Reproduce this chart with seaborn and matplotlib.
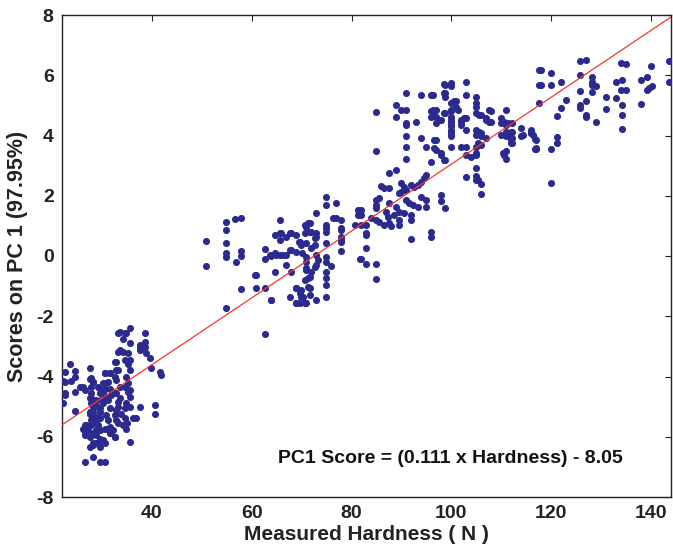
import numpy as np
import pandas as pd
import matplotlib
matplotlib.use("Agg")
import matplotlib.pyplot as plt
import seaborn as sns

# ---------------- data ----------------
# (measured hardness N, PC1 score) – soft group
group_soft = [
    (23.7, -3.60), (22.6, -3.84), (24.6, -3.82), (22.3, -4.14), (23.8, -4.15), (24.6, -4.03),
    (25.6, -4.36), (26.3, -4.36), (26.6, -4.45), (24.6, -4.53), (22.6, -4.62), (22.3, -4.89),
    (24.6, -5.15), (27.7, -3.73), (27.7, -4.09), (28.3, -4.17), (27.9, -4.36), (27.9, -4.56),
    (27.6, -4.73), (27.9, -4.89), (28.3, -5.00), (27.6, -5.17), (28.3, -5.28), (27.9, -5.45),
    (27.9, -5.61), (26.6, -5.61), (26.6, -5.84), (26.6, -5.95), (27.6, -6.00), (27.6, -6.33),
    (28.3, -6.28), (28.9, -6.22), (29.6, -6.22), (30.6, -6.22), (28.3, -6.67), (26.6, -6.83),
    (29.6, -6.83), (30.6, -6.83), (28.9, -5.78), (28.9, -5.95), (29.3, -5.61), (29.6, -5.39),
    (29.6, -5.17), (29.3, -5.00), (29.9, -4.78), (30.3, -4.56), (30.6, -4.40), (30.3, -4.23),
    (30.6, -3.87), (31.6, -3.87), (31.3, -4.17), (31.6, -4.40), (31.9, -4.62), (31.3, -4.78),
    (31.6, -5.06), (30.9, -5.28), (31.3, -5.73), (31.6, -5.89), (32.3, -5.78), (32.6, -6.00),
    (32.9, -5.45), (32.9, -5.12), (33.3, -4.84), (32.9, -4.56), (33.6, -4.34), (32.9, -4.12),
    (32.9, -3.79), (32.9, -3.51), (33.6, -3.12), (33.6, -2.51), (34.9, -2.57), (35.6, -2.40),
    (35.6, -2.90), (35.3, -3.23), (34.6, -3.46), (35.6, -3.46), (35.6, -3.79), (34.9, -4.01),
    (35.3, -4.23), (35.6, -4.45), (35.6, -4.67), (34.9, -4.89), (35.6, -5.00), (33.9, -5.23),
    (34.6, -5.39), (34.3, -5.61), (34.9, -5.73), (36.3, -5.39), (35.6, -6.17), (36.9, -5.39),
    (37.6, -5.00), (37.6, -3.01), (37.6, -3.12), (38.6, -2.57), (38.6, -2.85), (38.6, -3.01),
    (38.9, -3.23), (39.6, -3.40), (39.9, -3.73), (40.6, -4.95), (40.6, -5.23), (41.6, -3.84),
    (41.9, -3.95),
    (33.3, -2.57), (34.7, -2.57), (37.7, -2.96), (33.3, -3.18), (32.7, -3.51), (33.3, -3.79),
    (32.7, -4.01), (32.3, -4.51), (33.7, -4.73), (33.3, -5.00), (32.7, -5.28), (33.3, -5.56),
    (32.7, -6.00), (34.7, -4.35), (35.3, -4.50), (34.7, -5.05), (35.0, -5.55), (35.3, -3.60),
    (34.3, -3.20), (34.3, -2.75),
    (22.6, -4.17), (22.6, -4.56), (27.9, -4.06), (28.3, -4.17), (29.3, -4.34), (29.6, -4.56),
    (28.9, -4.78), (27.9, -4.73), (28.6, -4.89), (30.6, -3.90), (31.6, -3.90), (30.9, -4.23),
    (30.3, -4.45), (30.9, -4.73), (30.3, -4.89), (29.6, -5.06), (28.3, -5.17), (27.6, -5.23),
    (28.3, -5.39), (29.3, -5.34), (28.9, -5.56), (26.9, -5.61), (26.3, -5.73), (27.3, -5.78),
    (28.3, -5.89), (29.6, -5.78), (30.6, -5.73), (31.6, -5.67), (31.3, -5.45), (31.6, -5.89),
    (29.6, -6.06), (28.3, -6.22), (30.3, -6.11), (29.6, -6.33),
]

# medium group
group_medium = [
    (50.8, 0.51), (50.8, -0.33), (54.8, 1.12), (54.8, 0.86), (56.6, 1.22), (57.8, 1.27),
    (54.8, 0.42), (54.8, 0.09), (54.8, -0.02), (56.8, -0.19), (57.8, 0.18), (57.8, 0.00),
    (57.8, -1.11), (54.8, -1.72), (60.8, -0.63), (60.8, -1.05), (62.7, -1.05), (62.7, -2.60),
    (63.8, -1.46), (62.7, 0.22), (62.7, -0.11), (63.8, 0.00), (64.6, 0.70), (64.6, -0.52),
    (65.7, 1.20), (65.7, 0.75), (65.7, 0.53), (64.8, 0.03), (65.7, 0.03), (66.9, 0.64),
    (67.6, 0.75), (66.9, 0.03), (66.9, -0.30), (67.6, 0.20), (68.9, 0.70), (68.9, 0.14),
    (67.9, -0.52), (67.6, -1.35), (68.8, -1.07), (68.8, -1.57), (69.5, 0.48), (69.9, 0.37),
    (70.1, 0.09), (70.6, 1.03), (70.6, 0.75), (70.9, 0.42), (70.9, -0.02), (70.9, -0.46),
    (71.3, -0.74), (70.6, -0.80), (69.9, -1.13), (69.9, -1.35), (69.6, -1.57), (70.9, -1.57),
    (71.6, -1.07), (71.6, -1.29), (71.6, 1.09), (71.6, 0.81), (71.9, 0.26), (72.6, 0.37),
    (72.8, 0.64), (72.8, 0.03), (72.8, -0.30), (72.8, -1.46), (72.8, 1.44), (74.8, 1.97),
    (74.8, 1.70), (74.8, 1.03), (74.8, 0.92), (74.8, 0.81), (74.8, 0.42), (74.8, -0.02),
    (74.8, -0.19), (74.8, -0.52), (74.8, -0.74), (74.8, -0.96), (74.8, -1.35), (75.9, -0.33),
    (76.8, 1.77), (76.3, 1.25), (76.9, 1.25), (77.9, 1.20), (77.9, 0.86), (77.9, 0.64),
    (77.9, 0.53), (77.9, 0.17), (81.3, 1.53), (81.3, 1.36), (81.6, -0.11),
    (63.6, 0.03), (64.6, 0.09), (66.3, 0.03), (67.9, 0.20), (69.6, 0.48), (70.9, 0.97),
    (71.3, 1.09), (71.9, 0.81), (72.6, 0.59), (72.9, 0.75), (73.3, -0.13), (72.6, -0.35),
    (70.9, -0.19), (70.9, -0.41), (71.9, -0.52), (71.6, -0.69), (71.3, -1.02), (68.9, -1.07),
    (69.6, -1.24), (70.3, -1.35), (70.6, -1.57), (68.9, -1.57), (63.9, -1.46), (60.6, -0.63),
    (65.9, 0.78), (67.9, 0.78),
]

# hard group
group_hard = [
    (77.9, 0.92), (77.9, 0.48), (80.6, 1.03), (81.9, 1.53), (81.9, 1.36), (81.9, 1.03),
    (82.9, 1.03), (82.9, 0.75), (82.9, 0.70), (82.9, 0.26), (81.9, -0.11), (82.9, -0.27),
    (84.9, -0.27), (84.9, -0.78), (83.9, 1.25), (84.9, 1.86), (84.9, 1.69), (84.9, 1.58),
    (85.6, 1.92), (84.9, 1.20), (85.6, 1.14), (85.9, 2.33), (86.6, 2.25), (87.6, 2.25),
    (87.6, 1.75), (86.9, 1.47), (87.3, 1.31), (87.6, 1.09), (86.6, 1.03), (87.9, 0.98),
    (87.6, 2.75), (88.9, 2.86), (88.9, 1.64), (89.6, 1.47), (88.6, 1.36), (89.6, 1.20),
    (89.6, 1.03), (89.9, 2.41), (89.9, 2.14), (89.6, 2.08), (90.6, 2.30), (90.9, 2.19),
    (91.9, 2.36), (92.6, 2.30), (93.3, 2.36), (93.9, 2.47), (94.6, 2.58), (94.9, 2.69),
    (90.9, 1.86), (91.6, 1.75), (92.3, 1.70), (93.3, 1.64), (91.9, 1.36), (91.9, 1.20),
    (90.6, 1.42), (93.9, 1.97), (94.9, 1.86), (94.9, 1.64), (91.9, 0.55), (95.9, 0.81),
    (95.9, 0.64), (97.9, 2.03), (97.9, 1.81), (98.8, 1.58),
    (84.9, 4.77), (84.9, 3.50), (88.9, 5.02), (88.9, 4.63), (89.9, 4.85), (90.9, 5.40),
    (90.9, 4.85), (90.9, 4.41), (90.9, 4.35), (90.9, 3.97), (90.9, 3.63), (90.9, 3.22),
    (92.9, 4.46), (93.9, 5.35), (93.9, 3.91), (94.9, 3.63), (95.9, 5.35), (95.9, 4.80),
    (95.9, 4.63), (96.6, 4.80), (96.9, 4.63), (95.9, 3.13), (96.9, 4.41), (96.9, 3.85),
    (96.9, 3.52), (97.9, 4.52), (97.9, 3.41), (98.8, 5.68), (98.8, 5.40), (98.8, 5.29),
    (98.8, 4.74), (98.8, 3.19), (99.9, 5.74), (99.9, 5.63), (99.9, 5.07), (99.9, 4.85),
    (99.9, 4.52), (99.9, 4.35), (99.9, 4.19), (99.9, 4.02), (99.9, 3.63), (100.9, 5.13),
    (101.3, 4.85), (101.9, 4.46), (101.9, 4.35), (102.6, 4.57), (102.9, 5.79), (102.9, 5.35),
    (102.9, 4.19), (102.9, 3.63), (102.9, 3.36), (101.9, 3.63), (102.9, 2.61), (104.9, 5.29),
    (104.9, 5.07), (104.9, 4.96), (104.9, 4.74), (104.9, 4.19), (104.9, 4.02), (104.9, 3.63),
    (104.9, 3.41), (104.9, 2.91), (104.9, 2.64), (104.9, 2.53), (105.9, 4.69), (105.9, 4.08),
    (105.9, 3.69), (105.9, 2.39), (105.9, 2.05), (106.9, 4.52), (106.9, 3.91), (107.9, 4.80),
    (107.9, 4.46), (109.9, 4.57), (109.9, 4.41), (109.9, 4.02), (110.3, 3.41), (110.9, 4.85),
    (110.9, 4.35), (110.9, 4.13), (110.9, 3.97), (110.9, 3.47), (110.9, 3.21), (111.9, 4.13),
    (111.9, 3.91), (111.9, 3.74), (113.9, 4.24), (113.9, 3.97), (115.9, 4.13), (115.9, 4.08),
    (116.9, 3.85), (116.9, 3.54), (117.6, 6.18), (117.6, 5.68), (117.6, 5.07),
    (98.6, 5.72), (96.3, 5.35), (98.6, 5.40), (100.6, 5.13), (100.9, 4.96), (96.3, 4.85),
    (96.9, 4.85), (96.3, 4.69), (98.6, 4.74), (99.9, 4.80), (99.9, 4.63), (99.9, 4.46),
    (99.9, 4.30), (99.9, 4.13), (99.9, 3.97), (96.6, 3.85), (96.6, 3.58), (97.9, 3.36),
    (98.6, 3.19), (101.9, 4.52), (102.9, 4.57), (103.9, 3.30), (105.6, 4.69), (105.6, 4.13),
    (105.9, 3.97), (105.3, 3.74), (104.9, 3.36), (105.3, 2.53), (107.6, 4.85), (106.9, 4.57),
    (107.6, 4.46), (110.6, 4.46), (111.3, 4.41), (111.9, 4.08), (111.9, 3.85), (110.6, 3.36),
    (114.3, 4.02), (116.3, 4.02), (116.9, 3.58),
]

# very hard group
group_very_hard = [
    (112.1, 4.43), (112.1, 4.13), (112.1, 3.91), (112.1, 3.74), (115.9, 4.19), (115.9, 4.08),
    (116.8, 3.88), (116.8, 3.56), (117.9, 6.18), (117.9, 5.66), (119.9, 6.09), (119.9, 5.66),
    (119.9, 3.54), (119.9, 2.42), (121.1, 4.66), (121.1, 3.94), (121.1, 3.74), (121.9, 5.79),
    (121.9, 4.91), (122.9, 5.18), (125.8, 6.46), (126.9, 6.51), (125.8, 6.01), (125.8, 5.48),
    (125.8, 5.02), (125.8, 4.91), (126.9, 5.13), (126.9, 4.68), (126.9, 4.61), (128.1, 5.94),
    (128.1, 5.76), (128.1, 5.68), (128.1, 5.43), (128.9, 5.63), (128.9, 4.46), (130.9, 5.27),
    (130.9, 4.87), (132.9, 5.76), (132.9, 5.24), (133.9, 6.42), (134.9, 6.38), (134.1, 5.85),
    (133.9, 5.52), (134.9, 5.52), (134.1, 5.00), (134.1, 4.69), (134.1, 4.22), (137.9, 5.85),
    (139.1, 5.94), (137.9, 5.05), (139.1, 5.52), (139.6, 5.57), (140.1, 5.65), (139.9, 6.31),
    (143.6, 6.48), (143.6, 5.76),
]

# least-squares fit reported on the chart
fit_slope = 0.111
fit_intercept = -8.05
hardness_range = [22, 144]

x_ticks = [40, 60, 80, 100, 120, 140]
y_ticks = [-8, -6, -4, -2, 0, 2, 4, 6, 8]

x_label = "Measured Hardness ( N )"
y_label = "Scores on PC 1 (97.95%)"
equation_text = "PC1 Score = (0.111 x Hardness) - 8.05"

# ---------------- build table ----------------
all_pts = group_soft + group_medium + group_hard + group_very_hard
df = pd.DataFrame(all_pts, columns=["hardness", "score"])

fit_x = np.array(hardness_range, dtype=float)
fit_df = pd.DataFrame({"hardness": fit_x, "score": fit_slope * fit_x + fit_intercept})

# ---------------- plot ----------------
sns.set_theme(style="white")
plt.rcParams["font.family"] = ["Liberation Sans", "DejaVu Sans"]
plt.rcParams["font.weight"] = "bold"
plt.rcParams["axes.unicode_minus"] = False

fig = plt.figure(figsize=(6.73, 5.52), dpi=100)
ax = fig.add_axes([62 / 673, 1 - 497 / 552, (671 - 62) / 673, (497 - 15) / 552])

sns.scatterplot(data=df, x="hardness", y="score", ax=ax, s=26, color="#2b2b8f",
                linewidth=0, zorder=3, clip_on=True)
sns.lineplot(data=fit_df, x="hardness", y="score", ax=ax, color="#f2392a",
             linewidth=0.9, zorder=4)

ax.set_xlim(hardness_range[0], hardness_range[1])
ax.set_ylim(-8, 8)
ax.set_xticks(x_ticks)
ax.set_yticks(y_ticks)
ax.tick_params(direction="in", length=4, width=0.8, top=True, right=True,
               labelsize=14, pad=6, colors="#222222")
for lab in ax.get_xticklabels() + ax.get_yticklabels():
    lab.set_fontweight("bold")
for sp in ax.spines.values():
    sp.set_visible(True)
    sp.set_color("#222222")
    sp.set_linewidth(1.0)

ax.set_xlabel(x_label, fontsize=15, fontweight="bold", labelpad=2, color="#222222")
ax.set_ylabel(y_label, fontsize=15.5, fontweight="bold", labelpad=6, color="#222222")

ax.text(65.2, -6.72, equation_text, fontsize=14, fontweight="bold",
        color="#111111", ha="left", va="center")

fig.savefig("out.png", dpi=100)
